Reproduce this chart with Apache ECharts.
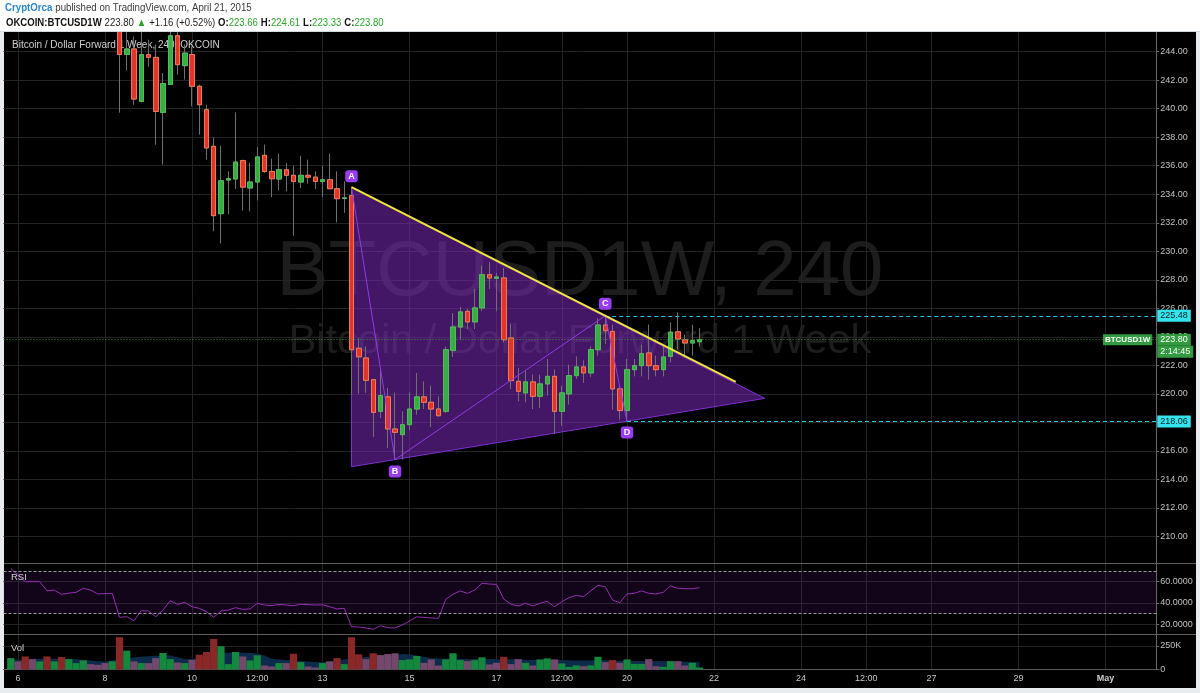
<!DOCTYPE html>
<html><head><meta charset="utf-8">
<script src="https://cdn.jsdelivr.net/npm/echarts@6/dist/echarts.min.js"></script>
<style>html,body{margin:0;padding:0;background:#fff}#c{width:1200px;height:693px}</style>
</head><body><div id="c"></div><script>
// ---- categories: 4-hour slots from 2015-04-05 16:00 (UTC) ----
const slotCount = 160;
const startTime = Date.UTC(2015, 3, 5, 16);
const categories = [];
for (let i = 0; i < slotCount; i++) {
  const d = new Date(startTime + i * 4 * 3600e3);
  categories.push(d.toISOString().slice(0, 16).replace('T', ' '));
}
const firstBarSlot = 1; // first candle = 2015-04-05 20:00
// time-axis labels (slot index -> text)
const timeLabelIdx = [2, 14, 26, 35, 44, 56, 68, 77, 86, 98, 110, 119, 128, 140, 152];
const timeLabels = ['6', '8', '10', '12:00', '13', '15', '17', '12:00', '20', '22', '24', '12:00', '27', '29', 'May'];

// ---- OHLC (4h candles) ----
const open = [255.0,257.2,255.8,254.4,254.2,254.6,252.9,253.2,252.0,252.4,252.7,253.6,253.1,252.3,252.4,
 252.5,243.8,244.19,240.51,243.79,243.6,239.74,241.7,245.12,243.02,243.8,241.57,239.93,237.36,232.64,
 235.0,235.07,236.36,234.44,234.86,236.73,235.6,235.07,235.72,235.33,234.86,235.33,235.2,234.9,235.02,
 234.39,233.7,233.9,223.2,222.52,221.0,218.78,219.79,217.54,217.14,217.84,218.94,219.79,219.41,218.94,
 218.78,223.05,224.69,225.79,225.05,226.03,228.36,228.1,228.13,223.92,220.88,220.07,220.84,219.83,220.7,
 221.23,218.78,220.0,221.28,221.89,221.47,223.1,224.83,224.38,220.35,218.83,221.7,221.98,222.87,221.98,
 221.7,222.63,224.35,223.8,223.57,223.66];
const high = [257.8,257.6,256.1,255.0,255.2,254.9,253.6,253.4,252.8,253.0,254.0,253.9,253.3,252.9,252.8,
 252.7,246.5,245.07,246.0,244.84,244.5,242.5,246.2,246.0,244.5,244.37,241.69,240.28,237.97,237.4,
 235.6,239.74,236.43,236.2,237.32,237.48,236.5,236.85,236.2,236.0,236.7,236.43,235.6,236.0,236.85,
 235.6,234.9,234.5,223.92,223.33,221.05,221.7,220.41,220.09,218.78,220.11,221.47,220.88,220.58,219.83,
 223.33,225.67,226.1,225.96,227.36,229.0,229.23,228.48,228.83,224.93,221.82,221.65,221.35,221.35,222.45,
 221.7,220.58,222.05,222.63,222.35,223.33,225.3,225.48,224.86,220.65,222.45,222.45,223.45,224.86,222.68,
 223.33,225.02,225.72,224.15,224.86,224.61];
const low = [254.6,255.3,253.9,253.7,253.8,252.5,252.4,251.6,251.7,252.0,252.5,252.8,252.1,252.0,251.9,
 239.72,242.69,240.28,240.44,242.95,237.48,236.08,241.7,242.39,242.04,240.16,238.18,236.43,231.4,230.55,
 232.6,234.37,232.85,232.8,233.57,235.5,233.8,234.27,234.2,231.1,234.44,234.74,234.37,233.8,234.37,
 232.03,232.7,219.95,220.02,220.07,216.98,218.31,216.2,215.39,215.39,217.45,218.54,218.94,217.68,218.39,
 218.66,222.59,223.8,224.55,224.55,225.8,227.36,225.79,223.6,220.35,219.48,219.41,218.94,219.0,219.88,
 217.2,217.77,219.25,221.05,220.77,221.19,222.68,223.5,218.9,218.2,218.06,221.23,221.23,221.0,221.23,
 221.23,222.21,223.1,222.52,222.68,223.33];
const close = [257.2,255.8,254.4,254.2,254.6,252.9,253.2,252.0,252.4,252.7,253.6,253.1,252.3,252.4,252.5,
 243.8,244.19,240.68,243.79,243.6,239.81,241.76,245.12,243.09,243.9,241.57,240.28,237.25,232.5,234.95,
 235.1,236.26,234.5,234.86,236.62,235.6,235.09,235.72,235.33,234.9,235.33,235.2,234.9,235.02,234.39,
 233.69,233.75,223.1,222.6,220.95,218.7,219.88,217.54,217.3,217.84,218.94,219.79,219.41,218.94,218.47,
 223.1,224.69,225.75,225.05,226.03,228.36,228.13,228.2,223.8,220.93,220.18,220.84,219.83,220.7,221.23,
 218.78,220.07,221.28,221.89,221.47,223.1,224.83,224.43,220.35,218.83,221.7,221.98,222.82,221.98,221.7,
 222.59,224.32,223.85,223.57,223.73,223.80];

// ---- RSI ----
const rsi = [72.6,66,60,60,60,51.5,52.2,48.2,49.2,50,53.8,52.2,48.5,48.8,49.1,
 26.6,27.1,23.4,32.8,32.5,27.1,33.4,42.2,38.8,40.6,36.5,35.0,31.8,26.6,32.5,
 33.4,35.6,34.0,34.4,39.7,38.1,37.5,38.8,38.1,37.5,38.8,38.5,38.1,38.3,36.5,
 34.4,35.0,17.7,17.5,16.5,15.3,18.7,16.8,16.5,19.4,23.0,27.0,26.5,26.0,25.6,
 43.5,48.2,51.3,49.1,52.2,58.5,57.8,57.5,43.7,38.8,37.2,39.7,37.2,39.7,41.6,
 36.5,41.2,45.0,47.2,45.9,51.3,56.6,55.3,42.8,40.3,48.5,49.1,51.3,49.1,48.5,
 50.0,56.0,53.8,53.4,53.4,54.4];
const rsiBands = [30, 70];

const volume = [121,86,139,110,86,139,86,132,110,68,97,57,50,68,86,
 343,200,86,68,68,121,175,110,75,68,103,157,186,325,247,
 57,186,139,97,150,43,32,68,68,167,78,32,21,68,86,
 121,57,343,161,110,172,153,164,172,100,107,143,71,107,43,
 107,172,100,89,100,129,54,71,135,57,110,71,43,107,118,
 107,64,28,43,35,43,135,78,100,71,107,60,60,110,35,
 28,89,89,43,71,21];
const volumeTone = 'gprpgrgrgggpppg' + 'rgpgppggpgprrrg' + 'ggpggppgprgppgp' +
                   'rgrrprpppgggppp' + 'gggpggpprppgpgg' + 'pgggpggprpgggpp' + 'ggppgg';
const volumeMA = [105,103,108,114,114,116,115,114,114,110,104,95,88,86,97,
 110,120,129,135,140,145,150,148,130,108,112,121,140,160,175,
 178,180,178,176,170,150,115,105,100,95,90,85,80,78,85,
 95,105,118,125,132,138,140,142,150,165,160,150,135,120,118,
 115,118,115,112,110,112,112,110,110,108,106,104,100,100,100,
 100,100,98,96,96,96,98,98,96,94,92,90,89,89,89,
 88,86,84,82,80,78];

// ---- axis tick values ----
const priceTicks = [210,212,214,216,218,220,222,224,226,228,230,232,234,236,238,240,242,244];
const rsiTicks = [20, 40, 60];
const volTicks = [0, 250];

// ---- drawing annotations (slot index, price) ----
const patA = [48, 234.5], patB = [54, 215.39], patC = [83, 225.48], patD = [86, 218.06];
const trendEndIdx = 101;
const lastPrice = 223.80;
const lastSlot = slotCount - 1;

// ---- build series data ----
const slotOf = (i) => i + firstBarSlot;
const wickData = open.map((o, i) => [slotOf(i), o, close[i], low[i], high[i]]);
const bodyData = open.map((o, i) => [slotOf(i), o, close[i], Math.min(o, close[i]), Math.max(o, close[i])]);
const toneColor = { g: '#14893e', r: '#8a2727', p: '#74476c' };
const volData = volume.map((v, i) => ({ value: [slotOf(i), v], itemStyle: { color: toneColor[volumeTone[i]] } }));
const rsiData = rsi.map((v, i) => [slotOf(i), v]);
const maData = volumeMA.map((v, i) => [slotOf(i), v]);

const FONT = 'Liberation Sans, Arial, sans-serif';
const gridL = 3.5, gridW = 1152.75;
const isLabelIdx = (idx) => timeLabelIdx.indexOf(idx) >= 0;

function xAxisFor(gi, showLabels) {
  return {
    type: 'category', gridIndex: gi, data: categories, boundaryGap: false,
    axisLine: { show: showLabels, lineStyle: { color: '#5a5a5a' } },
    axisTick: { show: false },
    axisLabel: {
      show: showLabels, interval: (idx) => isLabelIdx(idx),
      formatter: (v, idx) => {
        const t = timeLabels[timeLabelIdx.indexOf(idx)] || '';
        return t === 'May' ? '{m|May}' : t;
      },
      color: '#c8c8c8', fontSize: 9, margin: 5, fontFamily: FONT,
      rich: { m: { fontWeight: 'bold', color: '#d0d0d0', fontSize: 9, fontFamily: FONT } }
    },
    splitLine: { show: true, interval: (idx) => isLabelIdx(idx), lineStyle: { color: '#232323', width: 1 } }
  };
}
function yAxisFor(gi, min, max, ticks, fmt) {
  return {
    type: 'value', gridIndex: gi, position: 'right', min: min, max: max,
    axisLine: { show: true, lineStyle: { color: '#6a6a6a' } },
    axisTick: { show: true, length: 3, customValues: ticks, lineStyle: { color: '#6a6a6a' } },
    axisLabel: { customValues: ticks, formatter: fmt, color: '#c0c0c0', fontSize: 9, margin: 4, fontFamily: FONT },
    splitLine: { show: true, lineStyle: { color: '#232323', width: 1 } }
  };
}

function patternGeom() {
  const sTop = (patC[1] - patA[1]) / (patC[0] - patA[0]);
  const sBot = (patD[1] - patB[1]) / (patD[0] - patB[0]);
  const leftBot = patB[1] + sBot * (patA[0] - patB[0]);
  const tipX = patA[0] + (leftBot - patA[1]) / (sTop - sBot);
  const tipY = patA[1] + sTop * (tipX - patA[0]);
  const trendEnd = [trendEndIdx, patA[1] + sTop * (trendEndIdx - patA[0])];
  return { leftBottom: [patA[0], leftBot], tip: [tipX, tipY], trendEnd };
}

const option = {
  backgroundColor: '#ffffff',
  animation: false,
  textStyle: { fontFamily: FONT },
  grid: [
    { left: gridL, width: gridW, top: 32, height: 531, outerBoundsMode: 'none' },
    { left: gridL, width: gridW, top: 563, height: 71, outerBoundsMode: 'none' },
    { left: gridL, width: gridW, top: 634, height: 35.5, outerBoundsMode: 'none' }
  ],
  xAxis: [xAxisFor(0, false), xAxisFor(1, false), xAxisFor(2, true)],
  yAxis: [
    yAxisFor(0, 208.14, 245.38, priceTicks, (v) => v.toFixed(2)),
    yAxisFor(1, 10.89, 77.56, rsiTicks, (v) => v.toFixed(4)),
    yAxisFor(2, 0, 377, volTicks, (v) => (v === 0 ? '0' : v + 'K'))
  ],
  graphic: [
    { type: 'rect', z: -30, shape: { x: 0, y: 31, width: 1200, height: 662 }, style: { fill: '#e8ecef' } },
    { type: 'rect', z: -29, shape: { x: 4, y: 32, width: 1192, height: 656 }, style: { fill: '#000' } },
    { type: 'text', z: -28, x: 580, y: 273, style: { text: 'BTCUSD1W, 240', font: '78px ' + FONT, fill: 'rgba(255,255,255,0.115)', align: 'center', verticalAlign: 'middle' } },
    { type: 'text', z: -28, x: 580, y: 342, style: { text: 'Bitcoin / Dollar Forward 1 Week', font: '41.5px ' + FONT, fill: 'rgba(255,255,255,0.115)', align: 'center', verticalAlign: 'middle' } },
    // header (covers anything drawn above the chart)
    { type: 'rect', z: 50, shape: { x: 0, y: 0, width: 1200, height: 31 }, style: { fill: '#ffffff' } },
    { type: 'line', z: 51, shape: { x1: 0, y1: 31.5, x2: 1200, y2: 31.5 }, style: { stroke: '#d3d8dc', lineWidth: 1 } },
    { type: 'text', z: 51, x: 5, y: 8, scaleX: 0.88, style: { text: '{a|CryptOrca} {b|published on TradingView.com, April 21, 2015}', verticalAlign: 'middle',
        rich: { a: { fill: '#2b86c8', fontWeight: 'bold', fontSize: 11, fontFamily: FONT }, b: { fill: '#3a3a3a', fontSize: 11, fontFamily: FONT } } } },
    { type: 'text', z: 51, x: 6, y: 22.5, scaleX: 0.87, style: { text: '{k|OKCOIN:BTCUSD1W} {n|223.80} {g|▲} {n|+1.16 (+0.52%)} {k|O:}{g|223.66} {k|H:}{g|224.61} {k|L:}{g|223.33} {k|C:}{g|223.80}', verticalAlign: 'middle',
        rich: { k: { fill: '#111', fontWeight: 'bold', fontSize: 11, fontFamily: FONT }, n: { fill: '#222', fontSize: 11, fontFamily: FONT }, g: { fill: '#2aa52a', fontSize: 11, fontFamily: FONT } } } },
    { type: 'text', z: 1, x: 12, y: 45, style: { text: 'Bitcoin / Dollar Forward 1 Week, 240, OKCOIN', font: '10px ' + FONT, fill: '#cfcfcf', verticalAlign: 'middle' } },
    { type: 'text', z: 20, x: 11, y: 577, style: { text: 'RSI', font: '9.5px ' + FONT, fill: '#cfcfcf', verticalAlign: 'middle' } },
    { type: 'text', z: 20, x: 11, y: 648, style: { text: 'Vol', font: '9.5px ' + FONT, fill: '#cfcfcf', verticalAlign: 'middle' } },
    { type: 'line', z: 20, shape: { x1: 4, y1: 563.5, x2: 1196, y2: 563.5 }, style: { stroke: '#5e5e5e', lineWidth: 1 } },
    { type: 'line', z: 20, shape: { x1: 4, y1: 634.5, x2: 1196, y2: 634.5 }, style: { stroke: '#5e5e5e', lineWidth: 1 } }
  ],
  series: [
    { // pattern fill (below candles)
      type: 'custom', xAxisIndex: 0, yAxisIndex: 0, z: 1, silent: true, data: [[0, 230]],
      renderItem: function (params, api) {
        const g = patternGeom();
        const pts = [api.coord(patA), api.coord(g.tip), api.coord(g.leftBottom)];
        return { type: 'polygon', shape: { points: pts }, style: { fill: 'rgba(122,40,185,0.55)', stroke: '#7d2fd4', lineWidth: 1 } };
      }
    },
    { // candle wicks
      type: 'candlestick', name: 'wick', xAxisIndex: 0, yAxisIndex: 0, z: 3, barWidth: 5, clip: true,
      encode: { x: 0, y: [1, 2, 3, 4] },
      data: wickData,
      itemStyle: { color: 'rgba(0,0,0,0)', color0: 'rgba(0,0,0,0)', borderColor: '#707070', borderColor0: '#707070', borderColorDoji: '#707070', borderWidth: 1 }
    },
    { // candle bodies
      type: 'candlestick', name: 'body', xAxisIndex: 0, yAxisIndex: 0, z: 4, barWidth: 5, clip: true,
      encode: { x: 0, y: [1, 2, 3, 4] },
      data: bodyData,
      itemStyle: { color: '#38ad46', color0: '#e2352a', borderColor: '#4fbf55', borderColor0: '#f07a55', borderColorDoji: '#4fbf55', borderWidth: 1 },
      markLine: {
        silent: true, symbol: ['none', 'none'], animation: false,
        data: [
          [{ coord: [categories[patC[0]], patC[1]], lineStyle: { color: '#22c6d6', type: [4, 3], width: 1 },
             label: { show: true, position: 'end', formatter: patC[1].toFixed(2), backgroundColor: '#33e4ee', color: '#1a1a1a', padding: [2, 3, 1, 3], fontSize: 9, distance: 1 } },
           { coord: [categories[lastSlot], patC[1]] }],
          [{ coord: [categories[patD[0]], patD[1]], lineStyle: { color: '#22c6d6', type: [4, 3], width: 1 },
             label: { show: true, position: 'end', formatter: patD[1].toFixed(2), backgroundColor: '#33e4ee', color: '#1a1a1a', padding: [2, 3, 1, 3], fontSize: 9, distance: 1 } },
           { coord: [categories[lastSlot], patD[1]] }],
          { yAxis: lastPrice, lineStyle: { color: '#3a9a3a', type: [1, 2], width: 1 },
            label: { show: true, position: 'end', formatter: lastPrice.toFixed(2), backgroundColor: '#329b3f', color: '#fff', padding: [2, 3, 1, 3], fontSize: 9, distance: 1 } }
        ]
      },
      markPoint: {
        silent: true, symbol: 'circle', symbolSize: 0, animation: false,
        data: [
          { coord: [categories[lastSlot], lastPrice], itemStyle: { color: 'rgba(0,0,0,0)' },
            label: { show: true, position: 'left', distance: 4, formatter: 'BTCUSD1W', backgroundColor: '#329b3f', color: '#fff', padding: [2, 2, 1, 2], fontSize: 8, fontWeight: 'bold' } },
          { coord: [categories[lastSlot], lastPrice], itemStyle: { color: 'rgba(0,0,0,0)' },
            label: { show: true, position: 'right', distance: 1, offset: [0, 12], formatter: '2:14:45', backgroundColor: '#329b3f', color: '#fff', padding: [2, 3, 1, 3], fontSize: 9 } }
        ]
      }
    },
    { // pattern lines + labels (above candles)
      type: 'custom', xAxisIndex: 0, yAxisIndex: 0, z: 6, silent: true, data: [[0, 230]],
      renderItem: function (params, api) {
        const g = patternGeom();
        const a = api.coord(patA), b = api.coord(patB), c = api.coord(patC), d = api.coord(patD);
        const te = api.coord(g.trendEnd);
        const lab = (t, p, dy) => ({ type: 'text', x: p[0], y: p[1] + dy,
          style: { text: t, fill: '#fff', font: 'bold 9px ' + FONT, align: 'center', verticalAlign: 'middle',
                   backgroundColor: '#9a3cf4', padding: [2, 3, 1, 3], borderRadius: 3 } });
        return { type: 'group', children: [
          { type: 'polyline', shape: { points: [a, b, c, d] }, style: { stroke: '#8e3ce6', lineWidth: 1, fill: null } },
          { type: 'line', shape: { x1: a[0], y1: a[1], x2: te[0], y2: te[1] }, style: { stroke: '#f3e63a', lineWidth: 2 } },
          lab('A', a, -11), lab('B', b, 12), lab('C', c, -12), lab('D', d, 11)
        ] };
      }
    },
    { // RSI
      type: 'line', xAxisIndex: 1, yAxisIndex: 1, data: rsiData, symbol: 'none', z: 3,
      lineStyle: { color: '#952db3', width: 1 },
      markArea: { silent: true, itemStyle: { color: 'rgba(105,30,150,0.17)' }, data: [[{ yAxis: rsiBands[0] }, { yAxis: rsiBands[1] }]] },
      markLine: { silent: true, symbol: ['none', 'none'], label: { show: false },
        lineStyle: { color: '#9a9a9a', type: [3, 2], width: 1 },
        data: [{ yAxis: rsiBands[0] }, { yAxis: rsiBands[1] }] }
    },
    { // volume MA area
      type: 'line', xAxisIndex: 2, yAxisIndex: 2, data: maData, symbol: 'none', z: 2,
      lineStyle: { width: 0 }, areaStyle: { color: '#0c2a49', opacity: 1 }
    },
    { // volume bars
      type: 'bar', xAxisIndex: 2, yAxisIndex: 2, data: volData, barWidth: 7.2, z: 3
    }
  ]
};
const chart = echarts.init(document.getElementById('c'));
chart.setOption(option);
</script></body></html>
